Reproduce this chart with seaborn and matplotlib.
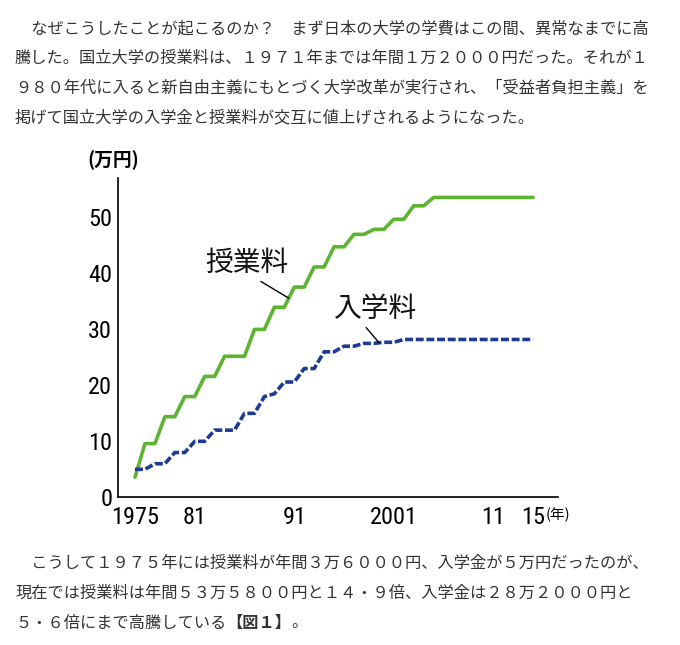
import pandas as pd
import matplotlib.pyplot as plt
from matplotlib import font_manager
import seaborn as sns

# 国立大学の授業料と入学料（万円）
years = [1975, 1976, 1977, 1978, 1979, 1980, 1981, 1982, 1983, 1984,
         1985, 1986, 1987, 1988, 1989, 1990, 1991, 1992, 1993, 1994,
         1995, 1996, 1997, 1998, 1999, 2000, 2001, 2002, 2003, 2004,
         2005, 2006, 2007, 2008, 2009, 2010, 2011, 2012, 2013, 2014, 2015]
tuition = [3.6, 9.6, 9.6, 14.4, 14.4, 18.0, 18.0, 21.6, 21.6, 25.2,
           25.2, 25.2, 30.0, 30.0, 33.96, 33.96, 37.56, 37.56, 41.16, 41.16,
           44.76, 44.76, 46.98, 46.98, 47.88, 47.88, 49.68, 49.68, 52.08, 52.08,
           53.58, 53.58, 53.58, 53.58, 53.58, 53.58, 53.58, 53.58, 53.58, 53.58, 53.58]
admission = [5.0, 5.0, 6.0, 6.0, 8.0, 8.0, 10.0, 10.0, 12.0, 12.0,
             12.0, 15.0, 15.0, 18.0, 18.5, 20.6, 20.6, 23.0, 23.0, 26.0,
             26.0, 27.0, 27.0, 27.5, 27.5, 27.7, 27.7, 28.2, 28.2, 28.2,
             28.2, 28.2, 28.2, 28.2, 28.2, 28.2, 28.2, 28.2, 28.2, 28.2, 28.2]

series_names = ['授業料', '入学料']
x_ticks = [1975, 1977, 1979, 1981, 1983, 1985, 1987, 1989, 1991, 1993, 1995,
           1997, 1999, 2001, 2003, 2005, 2007, 2009, 2011, 2013, 2015]
x_labels = ['1975', '', '', '81', '', '', '', '', '91', '', '',
            '', '', '2001', '', '', '', '', '11', '', '15']
y_ticks = [0, 10, 20, 30, 40, 50]

text_top = [
    '\u3000なぜこうしたことが起こるのか？\u3000まず日本の大学の学費はこの間、異常なまでに高',
    '騰した。国立大学の授業料は、１９７１年までは年間１万２０００円だった。それが１',
    '９８０年代に入ると新自由主義にもとづく大学改革が実行され、「受益者負担主義」を',
    '掲げて国立大学の入学金と授業料が交互に値上げされるようになった。',
]
text_bottom = [
    '\u3000こうして１９７５年には授業料が年間３万６０００円、入学金が５万円だったのが、',
    '現在では授業料は年間５３万５８００円と１４・９倍、入学金は２８万２０００円と',
]
text_last = ['５・６倍にまで高騰している', '【図１】', '。']

df = pd.DataFrame({
    'year': years + years,
    'value': tuition + admission,
    'series': [series_names[0]] * len(years) + [series_names[1]] * len(years),
})

sns.set_style('white')
plt.rcParams['font.family'] = ['Noto Sans CJK JP', 'DejaVu Sans']

# narrow face for the axis numbers, if one is installed
num_props = None
for f in font_manager.fontManager.ttflist:
    if f.name in ('Liberation Sans Narrow', 'Roboto Condensed', 'Arial Narrow'):
        num_props = dict(family=f.name, size=17.5)
        break
if num_props is None:
    for f in font_manager.fontManager.ttflist:
        if f.name == 'DejaVu Sans' and 'condensed' in str(f.stretch).lower():
            num_props = dict(family='DejaVu Sans', stretch='condensed', size=15.5)
            break
if num_props is None:
    num_props = dict(family='Liberation Sans', size=15.5)

W, H = 680, 645
fig = plt.figure(figsize=(6.8, 6.45), dpi=100)
ax = fig.add_axes([117.7 / W, 1 - 497.3 / H, (558 - 117.7) / W, (497.3 - 178.3) / H])

sns.lineplot(data=df, x='year', y='value', hue='series', style='series',
             hue_order=series_names, style_order=series_names,
             palette={'授業料': '#5db332', '入学料': '#1d3a94'},
             dashes={'授業料': '', '入学料': (2.2, 0.75)},
             linewidth=2.6, legend=False, ax=ax)

ax.set_xlim(1973.26, 2017.5)
ax.set_ylim(0, 57)
ax.set_xlabel('')
ax.set_ylabel('')
ax.set_xticks(x_ticks)
ax.set_xticklabels(x_labels)
ax.set_yticks(y_ticks)
for lab in ax.get_xticklabels() + ax.get_yticklabels():
    lab.set_fontproperties(font_manager.FontProperties(**num_props))
ax.tick_params(axis='x', direction='in', length=5, width=1.1, pad=6, colors='black')
ax.tick_params(axis='y', direction='in', length=6.5, width=1.1, pad=4, colors='black')
for s in ['top', 'right']:
    ax.spines[s].set_visible(False)
for s in ['left', 'bottom']:
    ax.spines[s].set_linewidth(1.2)
    ax.spines[s].set_color('black')

# series labels with leader lines
ax.annotate('授業料', xy=(1990.43, 35.6), xytext=(1986.26, 41.84),
            ha='center', va='center', fontsize=20, color='#111111',
            arrowprops=dict(arrowstyle='-', color='black', lw=1.0,
                            relpos=(0.6, 0.0), shrinkA=0, shrinkB=0))
ax.annotate('入学料', xy=(1999.53, 27.6), xytext=(1999.19, 33.6),
            ha='center', va='center', fontsize=20, color='#111111',
            arrowprops=dict(arrowstyle='-', color='black', lw=1.0,
                            relpos=(0.35, 0.0), shrinkA=0, shrinkB=0))

fig.text(87 / W, 1 - 160 / H, '(万円)', ha='left', va='center',
         fontsize=13.5, fontweight='bold', color='black')
fig.text(546 / W, 1 - 515 / H, '(年)', ha='left', va='center',
         fontsize=10.5, color='black')

# surrounding paragraphs
txt_color = '#333333'
for i, line in enumerate(text_top):
    fig.text(15 / W, 1 - (29 + 29.7 * i) / H, line, ha='left', va='center',
             fontsize=11.7, color=txt_color)
for i, line in enumerate(text_bottom):
    fig.text(15 / W, 1 - (563 + 30 * i) / H, line, ha='left', va='center',
             fontsize=11.7, color=txt_color)
t1 = fig.text(15 / W, 1 - 623 / H, text_last[0], ha='left', va='center',
              fontsize=11.7, color=txt_color)
t2 = ax.annotate(text_last[1], xy=(1, 0.5), xycoords=t1, ha='left', va='center',
                 fontsize=11.7, fontweight='bold', color=txt_color, annotation_clip=False)
ax.annotate(text_last[2], xy=(1, 0.5), xycoords=t2, ha='left', va='center',
            fontsize=11.7, color=txt_color, annotation_clip=False)

fig.savefig('out.png', dpi=100)
